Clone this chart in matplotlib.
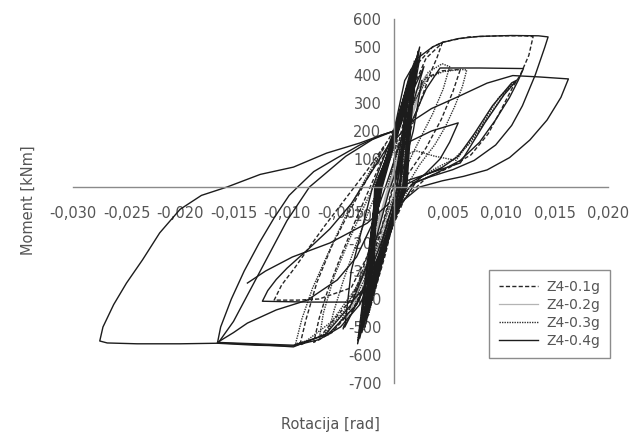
import matplotlib
matplotlib.use("Agg")
import matplotlib.pyplot as plt
from matplotlib.lines import Line2D

# tick values and labels (comma decimals as in the original);
# the labels at the origin are hidden under the curves in the original
x_ticks = [-0.030, -0.025, -0.020, -0.015, -0.010, -0.005, 0.005, 0.010, 0.015, 0.020]
x_labels = ["-0,030", "-0,025", "-0,020", "-0,015", "-0,010", "-0,005",
            "0,005", "0,010", "0,015", "0,020"]
y_ticks = [600, 500, 400, 300, 200, 100, -100, -200, -300, -400, -500, -600, -700]
y_labels = [str(v) for v in y_ticks]

series_names = ["Z4-0.1g", "Z4-0.2g", "Z4-0.3g", "Z4-0.4g"]

# ---- Z4-0.1g (dashed) : rotation [rad], moment [kNm] ----
z4_01_rot = [
    [-0.0004, 0.0008, 0.0022, 0.0036, 0.0046, 0.0070, 0.0100, 0.0122, 0.0130, 0.0126, 0.0118, 0.0111,
     0.0100, 0.0088, 0.0072, 0.0052, 0.0030, 0.0010, -0.0012, -0.0035, -0.0058, -0.0075, -0.0070,
     -0.0062, -0.0050, -0.0036, -0.0020, -0.0004],
    [0.0006, -0.0012, -0.0040, -0.0070, -0.0090, -0.0112, -0.0105, -0.0093, -0.0081, -0.0065, -0.0045,
     -0.0025, -0.0005, 0.0012, 0.0030, 0.0045, 0.0062, 0.0055, 0.0044, 0.0030, 0.0012, -0.0010,
     -0.0040, -0.0068, -0.0088, -0.0082, -0.0072, -0.0058, -0.0042, -0.0025, -0.0008],
    [0.0002, 0.0015, 0.0030, 0.0045, 0.0040, 0.0034, 0.0026, 0.0016, 0.0004, -0.0010, -0.0030,
     -0.0048, -0.0040, -0.0028, -0.0014, 0.0000],
    [0.0000, 0.0012, 0.0019, 0.0006, -0.0012, -0.0020, -0.0027, -0.0012, 0.0006, 0.0012, 0.0016,
     0.0004, -0.0014, -0.0019, -0.0023, -0.0008, 0.0007],
    [0.0000, 0.0016, 0.0023, 0.0011, -0.0015, -0.0025, -0.0033, -0.0017, 0.0009, 0.0015, 0.0019,
     0.0007, -0.0016, -0.0022, -0.0030, -0.0013, 0.0008, 0.0012, 0.0016, 0.0004, -0.0015, -0.0020,
     -0.0026, -0.0010, 0.0009],
]
z4_01_mom = [
    [0, 300, 440, 500, 518, 536, 540, 540, 537, 470, 400, 357, 275, 190, 115, 70, 32, -40, -240,
     -420, -520, -555, -470, -370, -250, -120, 20, 160],
    [100, -150, -360, -400, -404, -404, -350, -290, -225, -140, -40, 60, 170, 300, 390, 415, 420,
     340, 240, 140, 40, -150, -400, -530, -565, -470, -340, -210, -90, 30, 150],
    [120, 330, 460, 514, 460, 407, 320, 210, 60, -130, -370, -510, -420, -280, -120, 60],
    [0, 260, 440, 260, 0, -260, -500, -260, 0, 230, 390, 210, 0, -240, -440, -240, 0],
    [0, 300, 490, 290, 0, -290, -540, -290, 0, 270, 450, 260, 0, -260, -500, -250, 0, 240, 400, 230,
     0, -250, -450, -230, 0],
]

# ---- Z4-0.2g (light grey) ----
z4_02_rot = [
    [0.0000, 0.0010, 0.0020, 0.0030, 0.0024, 0.0012, -0.0004, -0.0020, -0.0034, -0.0045, -0.0038,
     -0.0026, -0.0012, 0.0002, 0.0016, 0.0026, 0.0020, 0.0008, -0.0008, -0.0022, -0.0030, -0.0022,
     -0.0010, 0.0004],
    [0.0000, 0.0013, 0.0019, 0.0008, -0.0013, -0.0022, -0.0028, -0.0013, 0.0008, 0.0012, 0.0016,
     0.0005, -0.0014, -0.0019, -0.0024, -0.0009, 0.0006],
]
z4_02_mom = [
    [0, 220, 340, 400, 330, 200, 10, -200, -380, -480, -420, -280, -110, 70, 260, 360, 300, 160,
     -30, -230, -380, -300, -150, 30],
    [0, 270, 440, 260, 0, -260, -480, -250, 0, 240, 400, 230, 0, -240, -430, -220, 0],
]

# ---- Z4-0.3g (dotted) ----
z4_03_rot = [
    [-0.0006, 0.0005, 0.0018, 0.0032, 0.0046, 0.0062, 0.0068, 0.0064, 0.0057, 0.0048, 0.0038, 0.0024,
     0.0008, -0.0012, -0.0035, -0.0052, -0.0062, -0.0056, -0.0047, -0.0036, -0.0024, -0.0010, 0.0004],
    [0.0004, 0.0020, 0.0038, 0.0058, 0.0080, 0.0098, 0.0112, 0.0106, 0.0090, 0.0072, 0.0056, 0.0038,
     0.0018, -0.0004, -0.0030, -0.0058, -0.0082, -0.0092, -0.0086, -0.0076, -0.0062, -0.0046, -0.0028,
     -0.0010],
    [0.0000, 0.0016, 0.0032, 0.0045, 0.0052, 0.0046, 0.0036, 0.0024, 0.0010, -0.0008, -0.0028,
     -0.0046, -0.0070, -0.0066, -0.0056, -0.0042, -0.0028, -0.0012],
    [0.0000, 0.0011, 0.0018, 0.0006, -0.0012, -0.0021, -0.0028, -0.0012, 0.0006, 0.0013, 0.0017,
     0.0005, -0.0014, -0.0020, -0.0024, -0.0009, 0.0005],
    [0.0000, 0.0015, 0.0022, 0.0010, -0.0015, -0.0024, -0.0034, -0.0018, 0.0009, 0.0014, 0.0019,
     0.0008, -0.0015, -0.0021, -0.0029, -0.0013, 0.0009, 0.0015, 0.0021, 0.0009, -0.0014, -0.0023,
     -0.0031, -0.0015, 0.0007],
]
z4_03_mom = [
    [0, 160, 300, 390, 412, 420, 418, 360, 290, 215, 150, 80, -20, -200, -390, -490, -530, -440,
     -330, -210, -90, 40, 170],
    [100, 130, 110, 95, 210, 320, 372, 350, 260, 160, 100, 65, 20, -120, -330, -480, -550, -560,
     -470, -360, -240, -110, 20, 140],
    [80, 280, 410, 440, 430, 350, 260, 170, 60, -110, -300, -440, -545, -450, -320, -190, -70, 60],
    [0, 240, 430, 250, 0, -260, -510, -250, 0, 240, 410, 220, 0, -250, -460, -240, 0],
    [0, 290, 470, 280, 0, -280, -550, -280, 0, 260, 440, 250, 0, -260, -490, -250, 0, 280, 460, 270,
     0, -280, -520, -270, 0],
]

# ---- Z4-0.4g (solid) ----
z4_04_rot = [
    [0.0000, 0.0010, 0.0022, 0.0036, 0.0045, 0.0060, 0.0080, 0.0110, 0.0135, 0.0144, 0.0141, 0.0132,
     0.0120, 0.0110, 0.0095, 0.0075, 0.0055, 0.0035, 0.0018, 0.0006, -0.0006, -0.0018, -0.0032,
     -0.0050, -0.0070, -0.0095, -0.0130, -0.0165, -0.0200, -0.0240, -0.0268, -0.0275, -0.0272,
     -0.0262, -0.0250, -0.0235, -0.0219, -0.0200, -0.0180, -0.0156, -0.0125, -0.0094, -0.0063,
     -0.0032, -0.0012, 0.0000],
    [-0.0003, 0.0015, 0.0035, 0.0059, 0.0087, 0.0111, 0.0136, 0.0163, 0.0156, 0.0143, 0.0127, 0.0108,
     0.0087, 0.0065, 0.0045, 0.0024, 0.0005, -0.0015, -0.0035, -0.0060, -0.0094, -0.0130, -0.0165,
     -0.0162, -0.0152, -0.0140, -0.0126, -0.0112, -0.0098, -0.0090, -0.0075, -0.0055, -0.0032,
     -0.0012, 0.0000],
    [0.0000, 0.0015, 0.0030, 0.0043, 0.0080, 0.0121, 0.0116, 0.0108, 0.0095, 0.0080, 0.0062, 0.0040,
     0.0020, 0.0004, -0.0015, -0.0030, -0.0040, -0.0080, -0.0123, -0.0118, -0.0110, -0.0100, -0.0081,
     -0.0060, -0.0040, -0.0020, 0.0000],
    [0.0010, -0.0005, -0.0020, -0.0040, -0.0065, -0.0094, -0.0130, -0.0165, -0.0150, -0.0137, -0.0110,
     -0.0081, -0.0053, -0.0035, -0.0020, -0.0008, 0.0005, 0.0015],
    [0.0010, 0.0030, 0.0062, 0.0085, 0.0103, 0.0115, 0.0110, 0.0092, 0.0075, 0.0060, 0.0045, 0.0030,
     0.0012],
    [0.0008, 0.0035, 0.0060, 0.0052, 0.0043, 0.0030, 0.0015],
    [0.0000, -0.0020, -0.0045, -0.0079, -0.0100, -0.0125, -0.0150, -0.0163],
    [-0.0137, -0.0120, -0.0095, -0.0060, -0.0025, -0.0005],
    [0.0000, 0.0014, 0.0028, 0.0016, -0.0002, -0.0020, -0.0040, -0.0046, -0.0030, -0.0012, 0.0004,
     0.0018, 0.0026],
    [0.0000, 0.0010, 0.0016, 0.0004, -0.0013, -0.0021, -0.0026, -0.0012, 0.0006, 0.0011, 0.0014,
     0.0002, -0.0015, -0.0019, -0.0022, -0.0008, 0.0008, 0.0014, 0.0020, 0.0007, -0.0012, -0.0023,
     -0.0030, -0.0015, 0.0005, 0.0009, 0.0012, 0.0001, -0.0016, -0.0018, -0.0019, -0.0006, 0.0009,
     0.0016, 0.0022, 0.0009, -0.0011, -0.0025, -0.0032, -0.0017, 0.0003, 0.0011, 0.0016, 0.0004,
     -0.0014, -0.0020, -0.0024, -0.0010, 0.0006],
    [0.0000, 0.0015, 0.0024, 0.0010, -0.0016, -0.0026, -0.0034, -0.0018, 0.0010, 0.0016, 0.0021,
     0.0008, -0.0017, -0.0024, -0.0031, -0.0014, 0.0009, 0.0013, 0.0018, 0.0006, -0.0016, -0.0022,
     -0.0027, -0.0011, 0.0011, 0.0014, 0.0016, 0.0004, -0.0018, -0.0021, -0.0025, -0.0010, 0.0008],
    [0.0002, 0.0017, 0.0025, 0.0012, -0.0013, -0.0022, -0.0029, -0.0013, 0.0012, 0.0017, 0.0022,
     0.0011, -0.0014, -0.0021, -0.0026, -0.0010, 0.0011, 0.0015, 0.0020, 0.0008, -0.0014, -0.0020,
     -0.0023, -0.0008, 0.0010],
]
z4_04_mom = [
    [200, 380, 460, 500, 516, 530, 538, 541, 540, 536, 500, 400, 290, 220, 150, 95, 62, 38, 15, -40,
     -160, -300, -420, -500, -545, -568, -565, -558, -560, -560, -557, -550, -500, -420, -343, -260,
     -164, -80, -30, 0, 45, 71, 121, 157, 185, 200],
    [150, 230, 280, 321, 371, 398, 393, 386, 320, 239, 168, 105, 61, 38, 22, 0, -60, -250, -420,
     -520, -571, -562, -557, -500, -400, -300, -200, -110, -30, 0, 55, 100, 150, 185, 200],
    [0, 220, 350, 425, 425, 423, 380, 320, 240, 160, 95, 50, 15, -80, -260, -370, -411, -411, -408,
     -370, -330, -290, -225, -150, -60, 60, 180],
    [150, -20, -230, -420, -530, -565, -560, -555, -520, -486, -439, -404, -332, -250, -130, 0, 150,
     260],
    [20, 45, 86, 230, 330, 382, 372, 290, 190, 110, 70, 45, 10],
    [150, 200, 229, 160, 100, 50, 0],
    [200, 170, 110, 0, -120, -300, -480, -550],
    [-343, -300, -250, -200, -129, -60],
    [0, 250, 430, 330, 180, 0, -300, -500, -380, -200, 0, 200, 380],
    [0, 250, 420, 250, 0, -250, -470, -250, 0, 250, 380, 230, 0, -220, -420, -220, 0, 250, 450, 260,
     0, -280, -520, -270, 0, 200, 350, 200, 0, -200, -380, -200, 0, 250, 470, 270, 0, -290, -540,
     -280, 0, 250, 400, 240, 0, -230, -450, -230, 0],
    [0, 300, 500, 300, 0, -300, -560, -300, 0, 280, 460, 270, 0, -270, -510, -260, 0, 260, 430, 250,
     0, -260, -470, -240, 0, 230, 360, 210, 0, -230, -420, -220, 0],
    [0, 310, 480, 300, 0, -280, -500, -260, 0, 290, 470, 290, 0, -270, -480, -240, 0, 270, 420, 240,
     0, -240, -430, -200, 0],
]

styles = {
    "Z4-0.1g": dict(color="#262626", lw=1.0, dashes=(3.0, 1.6)),
    "Z4-0.2g": dict(color="#b4b4b4", lw=0.9, linestyle="-"),
    "Z4-0.3g": dict(color="#333333", lw=1.0, dashes=(1.0, 0.8)),
    "Z4-0.4g": dict(color="#1c1c1c", lw=1.0, linestyle="-"),
}
data = {
    "Z4-0.1g": (z4_01_rot, z4_01_mom),
    "Z4-0.2g": (z4_02_rot, z4_02_mom),
    "Z4-0.3g": (z4_03_rot, z4_03_mom),
    "Z4-0.4g": (z4_04_rot, z4_04_mom),
}

fig = plt.figure(figsize=(6.42, 4.38), dpi=100)
ax = fig.add_axes([73 / 642, 1 - 383 / 438, 535 / 642, 364 / 438])

for name in series_names:
    rots, moms = data[name]
    for r, m in zip(rots, moms):
        ax.plot(r, m, **styles[name])

ax.set_xlim(-0.030, 0.020)
ax.set_ylim(-700, 600)

# axes crossing at the origin, like the spreadsheet chart
ax.spines["left"].set_position(("data", 0))
ax.spines["bottom"].set_position(("data", 0))
ax.spines["top"].set_visible(False)
ax.spines["right"].set_visible(False)
for s in ("left", "bottom"):
    ax.spines[s].set_color("#8a8a8a")
    ax.spines[s].set_linewidth(1.0)

ax.set_xticks(x_ticks)
ax.set_xticklabels(x_labels)
ax.set_yticks(y_ticks)
ax.set_yticklabels(y_labels)
ax.tick_params(axis="x", length=0, pad=14, labelsize=10.5, labelcolor="#555555")
ax.tick_params(axis="y", length=0, pad=9, labelsize=10.5, labelcolor="#555555")
ax.set_axisbelow(True)
ax.patch.set_alpha(0)

fig.text(28 / 642, 1 - 200 / 438, "Moment [kNm]", rotation=90, ha="center", va="center",
         fontsize=10.5, color="#555555")
fig.text(330 / 642, 1 - 425 / 438, "Rotacija [rad]", ha="center", va="center",
         fontsize=10.5, color="#555555")

handles = [Line2D([], [], **styles[n]) for n in series_names]
leg = ax.legend(handles, series_names, loc="upper left",
                bbox_to_anchor=((489 - 73) / 535, (383 - 270) / 364),
                borderaxespad=0, frameon=True, fancybox=False, fontsize=10,
                handlelength=2.8, borderpad=0.7, labelspacing=0.3, handletextpad=0.6)
leg.get_frame().set_edgecolor("#707070")
leg.get_frame().set_linewidth(1.0)
for t in leg.get_texts():
    t.set_color("#555555")

fig.savefig("out.png", dpi=100)
